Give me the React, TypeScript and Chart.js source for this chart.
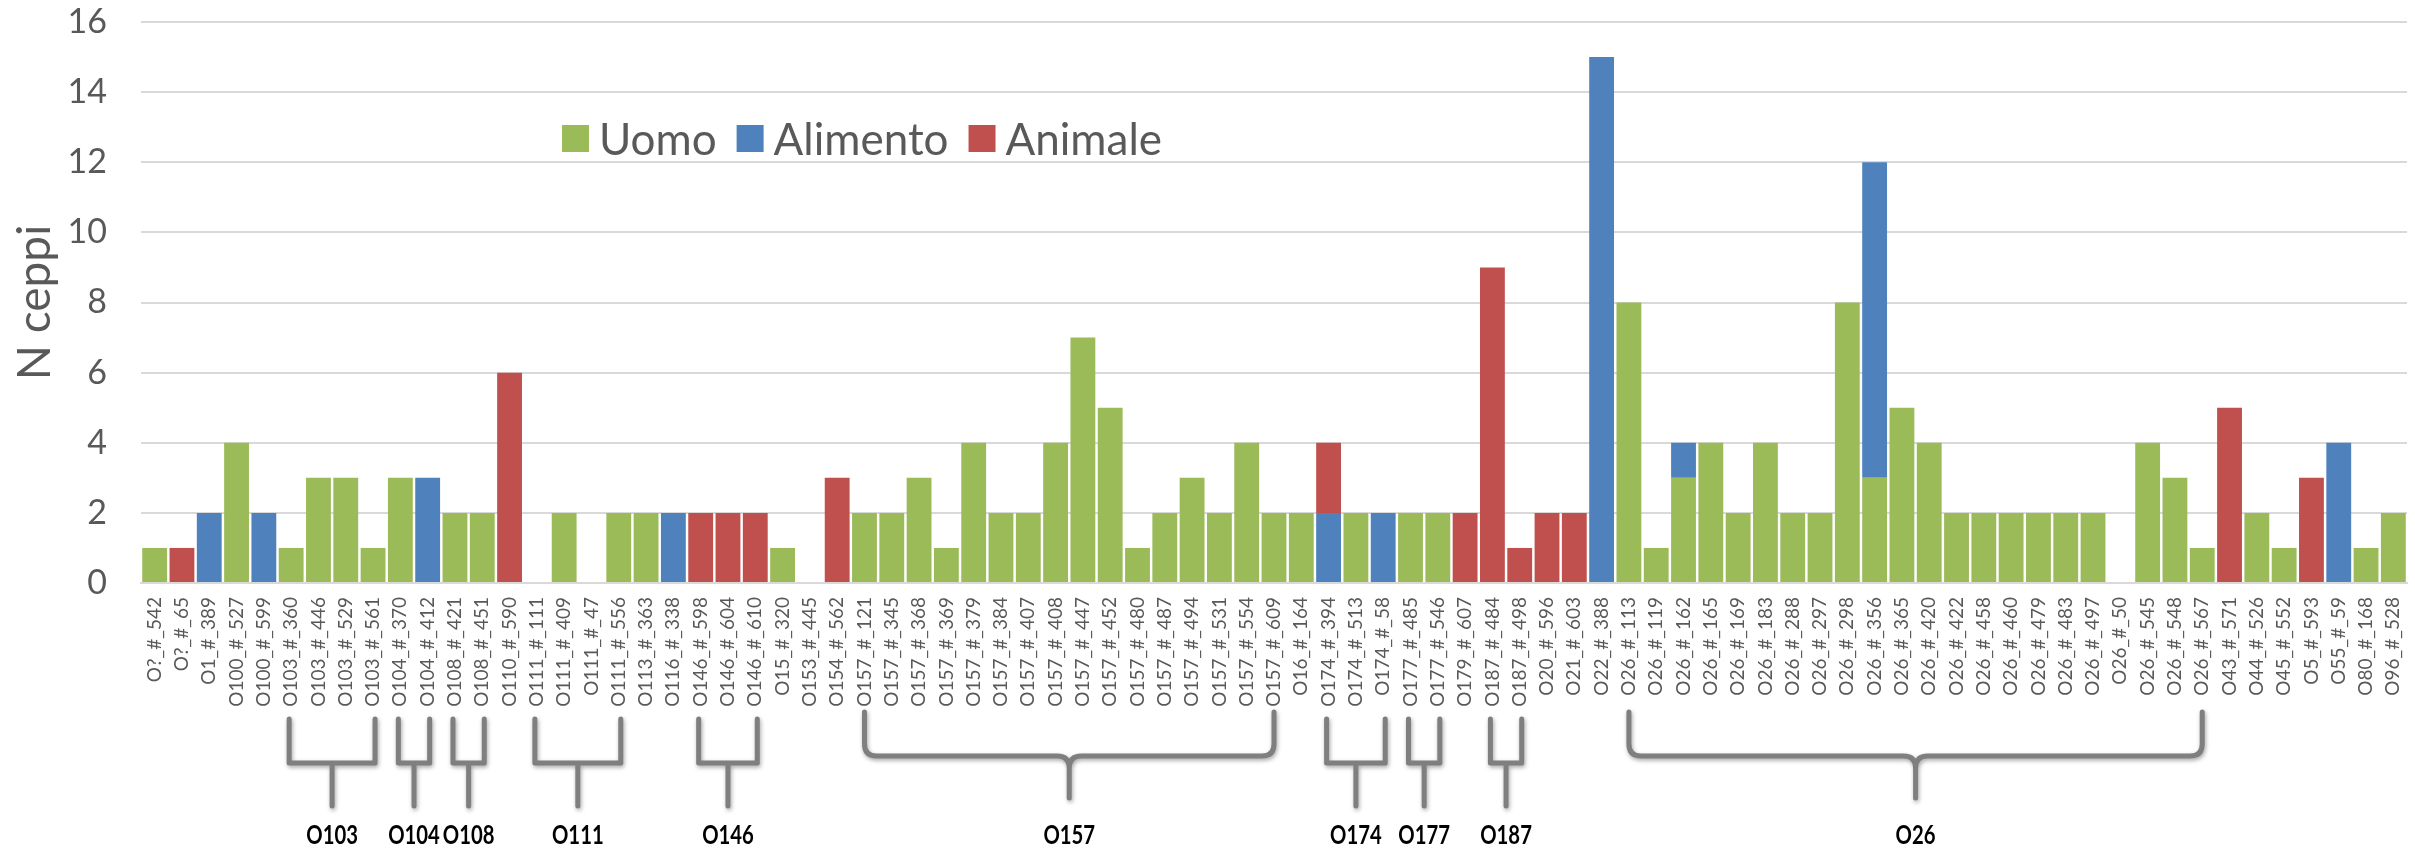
import React, { useEffect, useRef } from "react";
import { Chart, registerables } from "chart.js";

Chart.register(...registerables);

const categories = [
  "O?_#_542", "O?_#_65", "O1_#_389", "O100_#_527", "O100_#_599",
  "O103_#_360", "O103_#_446", "O103_#_529", "O103_#_561",
  "O104_#_370", "O104_#_412", "O108_#_421", "O108_#_451", "O110_#_590",
  "O111_#_111", "O111_#_409", "O111_#_47", "O111_#_556", "O113_#_363", "O116_#_338",
  "O146_#_598", "O146_#_604", "O146_#_610", "O15_#_320", "O153_#_445", "O154_#_562",
  "O157_#_121", "O157_#_345", "O157_#_368", "O157_#_369", "O157_#_379", "O157_#_384",
  "O157_#_407", "O157_#_408", "O157_#_447", "O157_#_452", "O157_#_480", "O157_#_487",
  "O157_#_494", "O157_#_531", "O157_#_554", "O157_#_609", "O16_#_164",
  "O174_#_394", "O174_#_513", "O174_#_58", "O177_#_485", "O177_#_546", "O179_#_607",
  "O187_#_484", "O187_#_498", "O20_#_596", "O21_#_603", "O22_#_388",
  "O26_#_113", "O26_#_119", "O26_#_162", "O26_#_165", "O26_#_169", "O26_#_183",
  "O26_#_288", "O26_#_297", "O26_#_298", "O26_#_356", "O26_#_365", "O26_#_420",
  "O26_#_422", "O26_#_458", "O26_#_460", "O26_#_479", "O26_#_483", "O26_#_497",
  "O26_#_50", "O26_#_545", "O26_#_548", "O26_#_567",
  "O43_#_571", "O44_#_526", "O45_#_552", "O5_#_593", "O55_#_59", "O80_#_168", "O96_#_528",
];

const uomo = [
  1, 0, 0, 4, 0,
  1, 3, 3, 1,
  3, 0, 2, 2, 0,
  0, 2, 0, 2, 2, 0,
  0, 0, 0, 1, 0, 0,
  2, 2, 3, 1, 4, 2,
  2, 4, 7, 5, 1, 2,
  3, 2, 4, 2, 2,
  0, 2, 0, 2, 2, 0,
  0, 0, 0, 0, 0,
  8, 1, 3, 4, 2, 4,
  2, 2, 8, 3, 5, 4,
  2, 2, 2, 2, 2, 2,
  0, 4, 3, 1,
  0, 2, 1, 0, 0, 1, 2,
];

const alimento = [
  0, 0, 2, 0, 2,
  0, 0, 0, 0,
  0, 3, 0, 0, 0,
  0, 0, 0, 0, 0, 2,
  0, 0, 0, 0, 0, 0,
  0, 0, 0, 0, 0, 0,
  0, 0, 0, 0, 0, 0,
  0, 0, 0, 0, 0,
  2, 0, 2, 0, 0, 0,
  0, 0, 0, 0, 15,
  0, 0, 1, 0, 0, 0,
  0, 0, 0, 9, 0, 0,
  0, 0, 0, 0, 0, 0,
  0, 0, 0, 0,
  0, 0, 0, 0, 4, 0, 0,
];

const animale = [
  0, 1, 0, 0, 0,
  0, 0, 0, 0,
  0, 0, 0, 0, 6,
  0, 0, 0, 0, 0, 0,
  2, 2, 2, 0, 0, 3,
  0, 0, 0, 0, 0, 0,
  0, 0, 0, 0, 0, 0,
  0, 0, 0, 0, 0,
  2, 0, 0, 0, 0, 2,
  9, 1, 2, 2, 0,
  0, 0, 0, 0, 0, 0,
  0, 0, 0, 0, 0, 0,
  0, 0, 0, 0, 0, 0,
  0, 0, 0, 0,
  5, 0, 0, 3, 0, 0, 0,
];

const seriesNames = ["Uomo", "Alimento", "Animale"];
const seriesColors = ["#9BBB59", "#4F81BD", "#C0504D"];
const groupNames = ["O103", "O104", "O108", "O111", "O146", "O157", "O174", "O177", "O187", "O26"];
const yAxisTitle = "N ceppi";
const yMax = 16;
const yStep = 2;

const FONT = "Lato, 'Open Sans', sans-serif";
const TEXT = "#595959";

const PLOT = { left: 141, top: 22, right: 2407, bottom: 583 };

const pinArea = {
  id: "pinArea",
  afterLayout(chart: any) {
    const ys = chart.scales.y;
    const xs = chart.scales.x;
    ys.top = PLOT.top;
    ys.bottom = PLOT.bottom;
    ys.height = PLOT.bottom - PLOT.top;
    ys.left = 0;
    ys.right = PLOT.left;
    ys.width = PLOT.left;
    ys.configure();
    xs.left = PLOT.left;
    xs.right = PLOT.right;
    xs.width = PLOT.right - PLOT.left;
    xs.top = PLOT.bottom;
    xs.bottom = chart.height;
    xs.height = chart.height - PLOT.bottom;
    xs.configure();
    const ca = chart.chartArea;
    ca.left = PLOT.left;
    ca.top = PLOT.top;
    ca.right = PLOT.right;
    ca.bottom = PLOT.bottom;
    ca.width = PLOT.right - PLOT.left;
    ca.height = PLOT.bottom - PLOT.top;
  },
};

const inlineLegend = {
  id: "inlineLegend",
  afterDraw(chart: any) {
    const ctx = chart.ctx;
    ctx.save();
    ctx.font = `44px ${FONT}`;
    ctx.textBaseline = "middle";
    ctx.textAlign = "left";
    let x = 562;
    const y = 139;
    seriesNames.forEach((name, i) => {
      ctx.fillStyle = seriesColors[i];
      ctx.fillRect(x, y - 14, 27, 27);
      x += 27 + 10;
      ctx.fillStyle = TEXT;
      ctx.fillText(name, x, y + 2);
      x += ctx.measureText(name).width + 20;
    });
    ctx.restore();
  },
};

function groupIndices(g: string) {
  return categories
    .map((c, i) => (c.startsWith(g + "_") ? i : -1))
    .filter((i) => i >= 0);
}

const groupBrackets = {
  id: "groupBrackets",
  afterDraw(chart: any) {
    const ctx = chart.ctx;
    const xs = chart.scales.x;
    ctx.save();
    ctx.strokeStyle = "#7F7F7F";
    ctx.lineWidth = 5;
    ctx.lineJoin = "round";
    ctx.lineCap = "round";
    ctx.shadowColor = "rgba(0,0,0,0.35)";
    ctx.shadowBlur = 4;
    ctx.shadowOffsetX = 1;
    ctx.shadowOffsetY = 2;
    groupNames.forEach((g) => {
      const idx = groupIndices(g);
      if (!idx.length) return;
      const big = idx.length >= 10;
      const pad = big ? 0 : 2;
      const x0 = xs.getPixelForValue(idx[0]) - pad;
      const x1 = xs.getPixelForValue(idx[idx.length - 1]) + pad;
      const mid = (x0 + x1) / 2;
      ctx.beginPath();
      if (big) {
        const top = 712, hy = 756, bot = 798, r = 12;
        ctx.moveTo(x0, top);
        ctx.lineTo(x0, hy - r);
        ctx.quadraticCurveTo(x0, hy, x0 + r, hy);
        ctx.lineTo(mid - r, hy);
        ctx.quadraticCurveTo(mid, hy, mid, hy + r);
        ctx.lineTo(mid, bot);
        ctx.moveTo(x1, top);
        ctx.lineTo(x1, hy - r);
        ctx.quadraticCurveTo(x1, hy, x1 - r, hy);
        ctx.lineTo(mid + r, hy);
        ctx.quadraticCurveTo(mid, hy, mid, hy + r);
      } else {
        const top = 719, hy = 763, bot = 806;
        ctx.moveTo(x0, top);
        ctx.lineTo(x0, hy);
        ctx.lineTo(x1, hy);
        ctx.lineTo(x1, top);
        ctx.moveTo(mid, hy);
        ctx.lineTo(mid, bot);
      }
      ctx.stroke();
    });
    ctx.shadowColor = "transparent";
    ctx.fillStyle = "#000000";
    ctx.font = `bold 26px ${FONT}`;
    ctx.textAlign = "center";
    ctx.textBaseline = "middle";
    groupNames.forEach((g) => {
      const idx = groupIndices(g);
      if (!idx.length) return;
      const mid = (xs.getPixelForValue(idx[0]) + xs.getPixelForValue(idx[idx.length - 1])) / 2;
      ctx.save();
      ctx.translate(mid, 836);
      ctx.scale(0.78, 1);
      ctx.fillText(g, 0, 0);
      ctx.restore();
    });
    ctx.restore();
  },
};

export default function App() {
  const ref = useRef<HTMLCanvasElement | null>(null);

  useEffect(() => {
    document.body.style.margin = "0";
    document.body.style.background = "#ffffff";
    const canvas = ref.current;
    if (!canvas) return;
    const data = [uomo, alimento, animale];
    const chart = new Chart(canvas, {
      type: "bar",
      data: {
        labels: categories,
        datasets: seriesNames.map((name, i) => ({
          label: name,
          data: data[i].map((v) => (v === 0 ? null : v)),
          backgroundColor: seriesColors[i],
          borderWidth: 0,
          barPercentage: 0.91,
          categoryPercentage: 1,
        })),
      },
      options: {
        animation: false,
        responsive: false,
        devicePixelRatio: 1,
        layout: { padding: { top: 22, right: 8, left: 0, bottom: 0 } },
        plugins: {
          legend: { display: false },
          tooltip: { enabled: false },
          title: { display: false },
        },
        scales: {
          x: {
            stacked: true,
            grid: { display: false, drawTicks: false },
            border: { display: true, color: "#D9D9D9", width: 2 },
            ticks: {
              autoSkip: false,
              maxRotation: 90,
              minRotation: 90,
              padding: 14,
              color: TEXT,
              font: { family: FONT, size: 19 },
            },
            afterFit: (scale: any) => {
              scale.height = 268;
            },
          },
          y: {
            stacked: true,
            min: 0,
            max: yMax,
            grid: { color: "#D9D9D9", lineWidth: 2, drawTicks: false },
            border: { display: false },
            ticks: {
              stepSize: yStep,
              padding: 34,
              color: TEXT,
              font: { family: FONT, size: 34 },
            },
            title: {
              display: true,
              text: yAxisTitle,
              color: TEXT,
              font: { family: FONT, size: 46 },
              padding: { top: 8, bottom: 0 },
            },
            afterFit: (scale: any) => {
              scale.width = 141;
            },
          },
        },
      },
      plugins: [pinArea, inlineLegend, groupBrackets],
    });
    return () => chart.destroy();
  }, []);

  return (
    <div style={{ width: 2415, height: 851, background: "#fff" }}>
      <canvas ref={ref} width={2415} height={851} style={{ width: 2415, height: 851, display: "block" }} />
    </div>
  );
}
